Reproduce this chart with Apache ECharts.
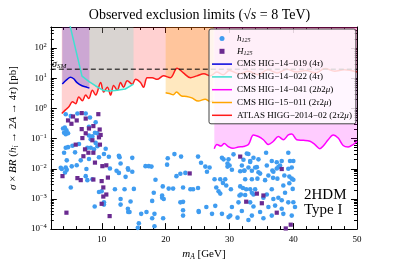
<!DOCTYPE html>
<html><head><meta charset="utf-8">
<script src="https://cdn.jsdelivr.net/npm/echarts@6/dist/echarts.min.js"></script>
<style>html,body{margin:0;padding:0;background:#fff}#c{width:399px;height:266px}</style>
</head><body><div id="c"></div>
<script>
const SERIF = 'Liberation Serif';

// ---- axis ticks ----
const xMajor = [10, 20, 30, 40, 50];
const yMajor = [1e-4, 1e-3, 1e-2, 1e-1, 1, 10, 100];
const sigmaSM = 20;

// ---- exclusion limits (pb) ----
const atlasX = [3.72,4.34,4.86,5.39,5.9,6.38,6.95,7.47,7.94,8.52,9.03,9.81,10.28,10.86,11.38,11.84,12.42,12.94,13.4,13.98,14.77,15.28,16.06,16.53,17.11,17.89,18.67,19.66,20.75,21.8,22.78,23.9,24.9,26,27,28,29,30,31.5,33,34.5,36,37.5,39,40.5,42,43.5,45,46.5,48,50];
const atlasY = [0.68,0.91,1.16,1.67,1.44,2.4,1.8,2.78,2.12,4.0,2.78,7.2,3.47,5.0,2.78,5.8,4.0,7.2,5.0,8.3,6.35,9.2,7.2,5.0,10.4,10.4,9.2,12,10.4,21.5,15,10.4,12,14,12,16,13,18,14,17,13,19,15,20,16,18,15,21,17,19,16];
const cms019X = [3.8,4.55,5.08,5.59,6.11,6.89,7.67,8.05];
const cms019Y = [6.5,9.2,10.9,9.6,7.2,5.65,5.0,4.7];
const cms022X = [4.9,6.89,8.05,8.98,10.28,11.06,12.11,13.67,14.97];
const cms022Y = [700,11.7,7.6,5.65,3.9,3.8,3.9,4.4,6.35];
const cms041X = [27.63,28.05,28.67,29.19,29.86,30.55,31.42,32.2,32.98,33.77,34.55,35.33,36.11,36.89,37.67,38.45,39.23,39.77,40.55,41.58,42.63,43.41,44.19,44.7,45.48,46.27,47.05,47.83,48.61,49.39,50];
const cms041Y = [0.0464,0.0635,0.0565,0.0684,0.0537,0.0474,0.0526,0.055,0.0635,0.132,0.117,0.0916,0.0635,0.0815,0.117,0.0916,0.132,0.142,0.0916,0.0877,0.0815,0.0635,0.0464,0.0565,0.0916,0.132,0.104,0.059,0.0526,0.0635,0.0815];
const cms015X = [20.0,20.6,21.2,21.7,22.5,23.3,24.1,25.1,26.2,27.0,27.5];
const cms015Y = [3.3,3.1,2.84,3.47,2.59,2.5,2.24,1.75,2.03,1.67,1.8];

// ---- scan points: h125 ----
const hX = [3.92,4.19,4.45,4.08,4.34,4.7,6.17,7.47,8.14,9.03,7.98,8.52,7.98,8.25,8.92,9.3,9.03,8.25,8.77,9.3,7.73,4.34,4.7,5.39,6.42,4.08,5.8,6.69,4.5,5.28,6.06,3.56,4.34,10.33,10.6,11.1,9.55,7.98,12.67,12.94,12.78,14.77,14.08,17.36,4.34,5.13,3.72,4.5,4.23,7.58,8.52,7.47,7.73,11.27,12.31,12.67,14.14,14.77,13.72,5.13,9.55,9.97,12.05,13.56,15.02,12.94,14.5,12.94,10.33,10.33,8.88,14.08,14.34,16.17,17.0,15.8,15.64,18.25,18.41,19.55,20.48,21.17,21.69,22.31,22.73,24.3,25.08,26.22,26.48,26.89,27.67,28.56,29.34,28.98,29.5,27.94,28.3,28.56,30.23,29.7,30.39,31.69,32.31,32.98,32.47,33.52,31.69,32.11,32.63,31.8,31.58,32.47,33.25,33.52,31.42,33.25,33.77,30.39,31.95,30.13,29.86,31.27,32.98,28.83,27.78,27.27,26.38,25.17,22.73,22.73,19.61,18.25,19.45,19.7,17.89,33.52,34.03,34.55,34.39,35.59,36.11,36.89,37.42,36.84,37.52,38.61,39.77,39.77,39.92,39.39,38.45,36.64,35.86,35.33,34.03,33.77,36.89,37.67,38.2,38.72,39.23,36.11,37.16,38.2,38.45,39.77,36.64,34.81,35.33,33.52,40.28,39.23,40.02,39.5,38.2,37.42,37.94,36.64,35.75,34.55,33.77,33.25,32.73,30.64,29.86,29.08,28.83,30.02,31.95,32.36,34.3,35.86,34.81,36.73,37.67,39.23,39.39,40.02,40.02,21.38,20.33,22.42,25.08,25.55,20.23,17.78,29.7,32.2,32.98,33.25,17.89,22.31,22.73,23.88,25.2,14.14,18.14,16.84,19.45,23.09];
const hY = [0.216,0.232,0.19,0.157,0.14,0.15,0.68,0.68,0.5,0.35,0.245,0.118,0.127,0.096,0.157,0.15,0.072,0.05,0.044,0.056,0.05,0.05,0.052,0.058,0.066,0.034,0.035,0.019,0.019,0.012,0.013,0.0108,0.011,0.031,0.046,0.025,0.024,0.021,0.027,0.015,0.024,0.023,0.0103,0.0122,0.64,0.557,0.0098,0.0092,0.0075,0.0098,0.0045,0.0057,0.0042,0.0102,0.0086,0.0073,0.0093,0.008,0.0054,0.0024,0.0017,0.0018,0.0021,0.0021,0.00215,0.001,0.00082,0.00065,0.00077,0.00065,0.00056,0.00047,0.00037,0.00032,0.00037,0.000155,0.00011,0.000125,0.0043,0.0026,0.0022,0.0022,0.0057,0.0068,0.0024,0.0021,0.0023,0.0118,0.008,0.011,0.0045,0.0045,0.0045,0.0034,0.0028,0.0024,0.0018,0.0015,0.0021,0.0118,0.0093,0.0083,0.0086,0.011,0.0045,0.0045,0.0026,0.0023,0.0021,0.0014,0.0013,0.00135,0.0021,0.0016,0.00077,0.00077,0.00056,0.00054,0.0004,0.00028,0.00025,0.00024,0.0002,0.00032,0.00059,0.00032,0.00054,0.0004,0.0008,0.00028,0.00023,0.00032,0.0011,0.001,0.00086,0.0086,0.011,0.0077,0.0047,0.0042,0.006,0.008,0.0102,0.005,0.0047,0.006,0.011,0.0047,0.00215,0.0033,0.0028,0.0021,0.0014,0.0011,0.0021,0.0014,0.001,0.0011,0.0009,0.0016,0.00077,0.00054,0.0006,0.00047,0.00032,0.00028,0.00028,0.00037,0.00023,0.00028,0.00054,0.034,0.018,0.018,0.018,0.0165,0.0128,0.018,0.034,0.0205,0.0233,0.018,0.032,0.03,0.0205,0.0205,0.0233,0.0128,0.0128,0.0088,0.0113,0.0128,0.0069,0.0088,0.0113,0.01,0.0055,0.0043,0.00078,0.0306,0.0223,0.0253,0.0253,0.0158,0.0137,0.0118,0.015,0.0198,0.031,0.0168,0.00023,0.00077,0.00042,0.0021,0.00037,0.00037,0.0016,0.0122,0.0013,0.0073];

// ---- scan points: H125 ----
const HX = [6.84,5.48,4.7,6.06,5.23,7.47,9.45,8.67,7.98,6.84,9.66,7.47,9.81,9.55,6.95,8.52,9.7,5.9,7.36,7.89,7.11,8.67,8.92,10.08,10.7,3.83,6.17,6.69,8.67,9.97,10.95,10.23,10.7,10.23,9.97,4.45,11.22,23.77,32.63,31.69,38.2,34.3,35.33,35.08,37.42,39.61,38.83];
const HY = [0.70,0.54,0.40,0.40,0.31,0.46,0.645,0.26,0.216,0.206,0.2,0.15,0.132,0.11,0.104,0.088,0.063,0.063,0.044,0.034,0.026,0.034,0.016,0.0122,0.013,0.0057,0.0049,0.0042,0.0044,0.0039,0.0051,0.0024,0.0014,0.0012,0.00069,0.00035,0.00027,0.007,0.00081,0.0253,0.0098,0.0015,0.0013,0.00072,0.00035,0.00014,0.000105];

const names = {
  h: 'h125', H: 'H125',
  c019: 'CMS HIG−14−019 (4τ)', c022: 'CMS HIG−14−022 (4τ)',
  c041: 'CMS HIG−14−041 (2b2μ)', c015: 'CMS HIG−15−011 (2τ2μ)',
  atlas: 'ATLAS HIGG−2014−02 (2τ2μ)'
};
const legendRich = {
  [names.h]: '{i|h}{sub|125}',
  [names.H]: '{i|H}{sub|125}',
  [names.c019]: '{n|CMS HIG−14−019 (4}{i|τ}{n|)}',
  [names.c022]: '{n|CMS HIG−14−022 (4}{i|τ}{n|)}',
  [names.c041]: '{n|CMS HIG−14−041 (2}{i|b}{n|2}{i|μ}{n|)}',
  [names.c015]: '{n|CMS HIG−15−011 (2}{i|τ}{n|2}{i|μ}{n|)}',
  [names.atlas]: '{n|ATLAS HIGG−2014−02 (2}{i|τ}{n|2}{i|μ}{n|)}'
};

const zip = (a, b) => a.map((x, i) => [x, b[i]]);

const xMinor = [];
for (let v = 4; v <= 48; v += 2) if (v % 10 !== 0) xMinor.push(v);
const yMinor = [];
for (let k = -4; k <= 2; k++) for (let m = 2; m <= 9; m++) { const v = m * Math.pow(10, k); if (v <= 500) yMinor.push(v); }

function yFmt(v) {
  const e = Math.round(Math.log10(v));
  return '{b|10}{s|' + (e < 0 ? '−' + (-e) : e) + '}';
}
const black = '#000';

function xAx(pos, major, showLabel) {
  return {
    type: 'value', position: pos, min: 2, max: 50, gridIndex: 0,
    axisLine: {show: major, onZero: false, lineStyle: {color: black, width: 1}},
    axisTick: {show: true, inside: true, length: major ? 6 : 3, customValues: major ? xMajor : xMinor, lineStyle: {color: black, width: 1}},
    axisLabel: {show: showLabel, customValues: xMajor, margin: 6, fontFamily: SERIF, fontSize: 9, color: black},
    splitLine: {show: false},
    name: showLabel ? '{i|m}{sub|A} [GeV]' : '',
    nameLocation: 'middle', nameGap: 17,
    nameTextStyle: {fontFamily: SERIF, fontSize: 11, color: black,
      rich: {i: {fontFamily: SERIF, fontStyle: 'italic', fontSize: 11, color: black},
             sub: {fontFamily: SERIF, fontStyle: 'italic', fontSize: 7.5, color: black, padding: [5, 0, 0, 0]}}}
  };
}
function yAx(pos, major, showLabel) {
  return {
    type: 'log', logBase: 10, position: pos, min: 1e-4, max: 500, gridIndex: 0,
    axisLine: {show: major, onZero: false, lineStyle: {color: black, width: 1}},
    axisTick: {show: true, inside: true, length: major ? 6 : 3, customValues: major ? yMajor : yMinor, lineStyle: {color: black, width: 1}},
    axisLabel: {show: showLabel, customValues: yMajor, margin: 4, formatter: yFmt,
      rich: {b: {fontFamily: SERIF, fontSize: 9, color: black},
             s: {fontFamily: SERIF, fontSize: 6.5, color: black, padding: [0, 0, 5, 0]}}},
    splitLine: {show: false},
    name: showLabel ? '{i|σ} × {i|BR} ({i|h}{sub|i} → 2{i|A} → 4{i|τ}) [pb]' : '',
    nameLocation: 'middle', nameGap: 22, nameRotate: 90,
    nameTextStyle: {fontFamily: SERIF, fontSize: 11, color: black,
      rich: {i: {fontFamily: SERIF, fontStyle: 'italic', fontSize: 11, color: black},
             sub: {fontFamily: SERIF, fontStyle: 'italic', fontSize: 7.5, color: black, padding: [5, 0, 0, 0]}}}
  };
}

function limitLine(name, xs, ys, color, smooth) {
  return {
    name, type: 'line', data: zip(xs, ys), symbol: 'none', smooth: smooth,
    lineStyle: {color, width: 1.5}, itemStyle: {color}, z: 3, clip: true
  };
}
function limitFill(name, xs, ys, color, alpha, smooth) {
  return {
    name, type: 'line', data: zip(xs, ys), symbol: 'none', smooth: smooth,
    lineStyle: {width: 0}, itemStyle: {color},
    areaStyle: {origin: 'end', color, opacity: alpha}, z: 1, clip: true
  };
}
const LINE_ICON = 'path://M0,0L40,0L40,3L0,3Z';
const SQ_ICON = 'path://M0,0L10,0L10,10L0,10Z';
const COL = {atlas: '#ff1a1a', c015: '#ffa500', c041: '#ff00ff', c022: '#40e0d0', c019: '#0000dd'};
const cyanFillFrom = cms022X.indexOf(8.05);

const option = {
  animation: false,
  backgroundColor: '#fff',
  title: {
    text: 'Observed exclusion limits ({i|√s} = 8 TeV)', left: 'center', top: 3,
    textStyle: {fontFamily: SERIF, fontSize: 14, fontWeight: 'normal', color: black,
      rich: {i: {fontFamily: SERIF, fontStyle: 'italic', fontSize: 14, color: black}}}
  },
  grid: {left: 50, right: 42, top: 27, bottom: 28, show: false},
  xAxis: [xAx('bottom', true, true), xAx('bottom', false, false), xAx('top', true, false), xAx('top', false, false)],
  yAxis: [yAx('left', true, true), yAx('left', false, false), yAx('right', true, false), yAx('right', false, false)],
  legend: {
    orient: 'vertical', left: 209, top: 29,
    padding: [4, 4, 3, 3], itemGap: 1.8, itemWidth: 20, itemHeight: 5, symbolKeepAspect: true,
    backgroundColor: 'rgba(255,255,255,0.82)', borderColor: '#444', borderWidth: 1, borderRadius: 2,
    data: [
      {name: names.h, icon: 'circle'}, {name: names.H, icon: SQ_ICON},
      {name: names.c019, icon: LINE_ICON}, {name: names.c022, icon: LINE_ICON},
      {name: names.c041, icon: LINE_ICON}, {name: names.c015, icon: LINE_ICON},
      {name: names.atlas, icon: LINE_ICON}
    ],
    formatter: n => legendRich[n] || n,
    textStyle: {fontFamily: SERIF, fontSize: 9, color: black, lineHeight: 11,
      rich: {n: {fontFamily: SERIF, fontSize: 9, color: black},
             i: {fontFamily: SERIF, fontStyle: 'italic', fontSize: 9, color: black},
             sub: {fontFamily: SERIF, fontStyle: 'italic', fontSize: 6, color: black, padding: [4, 0, 0, 0]}}}
  },
  series: [
    limitFill(names.atlas, atlasX, atlasY, COL.atlas, 0.2, 0.35),
    limitFill(names.c015, cms015X, cms015Y, COL.c015, 0.25, 0.35),
    limitFill(names.c041, cms041X, cms041Y, COL.c041, 0.2, 0.35),
    limitFill(names.c022, cms022X.slice(cyanFillFrom), cms022Y.slice(cyanFillFrom), COL.c022, 0.2, false),
    limitFill(names.c019, cms019X, cms019Y, COL.c019, 0.2, 0.35),
    limitLine(names.atlas, atlasX, atlasY, COL.atlas, 0.35),
    limitLine(names.c015, cms015X, cms015Y, COL.c015, 0.35),
    limitLine(names.c041, cms041X, cms041Y, COL.c041, 0.35),
    limitLine(names.c022, cms022X, cms022Y, COL.c022, false),
    limitLine(names.c019, cms019X, cms019Y, COL.c019, 0.35),
    {
      name: 'sigmaSM', type: 'line', data: [[2, sigmaSM], [50, sigmaSM]], symbol: 'none',
      lineStyle: {color: black, width: 1, type: [5, 3]}, z: 3
    },
    {
      name: names.h, type: 'scatter', data: zip(hX, hY), symbol: 'circle', symbolSize: 4.6,
      itemStyle: {color: '#3f9cf0', opacity: 1}, z: 4
    },
    {
      name: names.H, type: 'scatter', data: zip(HX, HY), symbol: 'rect', symbolSize: 4.2,
      itemStyle: {color: '#6a2a90', opacity: 1}, z: 5
    }
  ],
  graphic: [
    {type: 'text', left: 52, top: 59, z: 10,
     style: {text: '{i|σ}{sub|SM}', fill: black,
       rich: {i: {fontFamily: SERIF, fontStyle: 'italic', fontSize: 10, fill: black},
              sub: {fontFamily: SERIF, fontStyle: 'italic', fontSize: 7, fill: black, padding: [4, 0, 0, 0]}}}},
    {type: 'text', left: 304, top: 188, z: 10,
     style: {text: '2HDM\nType I', fill: black, font: '15px "Liberation Serif"', lineHeight: 15}}
  ]
};

const chart = echarts.init(document.getElementById('c'), null, {renderer: 'canvas'});
chart.setOption(option);
</script>
</body></html>
